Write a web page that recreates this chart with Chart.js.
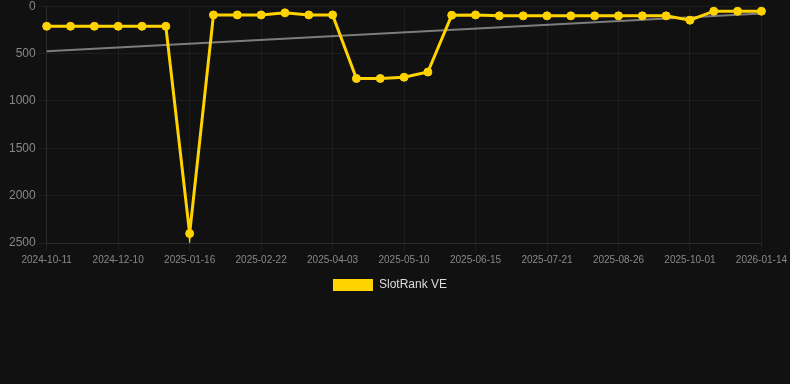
<!DOCTYPE html>
<html>
<head>
<meta charset="utf-8">
<script src="https://cdn.jsdelivr.net/npm/chart.js@4"></script>
<style>
  html, body { margin: 0; padding: 0; background: #111111; overflow: hidden; }
  #wrap { width: 790px; height: 305px; margin-top: -4px; }
  canvas { display: block; }
</style>
</head>
<body>
<div id="wrap"><canvas id="c" width="790" height="305"></canvas></div>
<script>
const labels = [
  '2024-10-11','2024-10-31','2024-11-20','2024-12-10','2024-12-22','2025-01-04',
  '2025-01-16','2025-01-28','2025-02-10','2025-02-22','2025-03-07','2025-03-20',
  '2025-04-03','2025-04-15','2025-04-28','2025-05-10','2025-05-22','2025-06-03',
  '2025-06-15','2025-06-27','2025-07-09','2025-07-21','2025-08-02','2025-08-14',
  '2025-08-26','2025-09-07','2025-09-19','2025-10-01','2025-10-30','2025-12-15',
  '2026-01-14'
];
const rankValues = [
  212, 212, 212, 212, 212, 212,
  2400, 92, 92, 92, 70, 92,
  92, 763, 763, 750, 695, 95,
  92, 102, 102, 102, 102, 102,
  102, 102, 102, 148, 53, 53,
  53
];
const trendValues = [475].concat(new Array(29).fill(null)).concat([78]);
const yTicks = [0, 500, 1000, 1500, 2000, 2500];

Chart.defaults.font.family = 'Arial, "Liberation Sans", Helvetica, sans-serif';

const legendShift = {
  id: 'legendShift',
  afterLayout(chart) {
    if (chart.legend) {
      chart.legend.left -= 6;
      chart.legend.right -= 6;
    }
  }
};

new Chart(document.getElementById('c'), {
  type: 'line',
  data: {
    labels: labels,
    datasets: [
      {
        label: 'SlotRank VE',
        data: rankValues,
        borderColor: '#FFD300',
        backgroundColor: '#FFD300',
        borderWidth: 3,
        pointRadius: 4,
        pointHoverRadius: 4,
        pointBorderWidth: 1,
        pointBackgroundColor: '#FFD300',
        pointBorderColor: '#FFD300',
        tension: 0,
        fill: false
      },
      {
        label: 'Trend',
        data: trendValues,
        borderColor: 'rgba(160,160,160,0.75)',
        borderWidth: 2,
        pointRadius: 0,
        spanGaps: true,
        fill: false
      }
    ]
  },
  plugins: [legendShift],
  options: {
    responsive: false,
    animation: false,
    layout: { padding: { left: 6, right: 4, top: 0, bottom: 0 } },
    plugins: {
      tooltip: { enabled: false },
      legend: {
        position: 'bottom',
        labels: {
          color: '#dddddd',
          boxWidth: 40,
          boxHeight: 12,
          font: { size: 12 },
          filter: (item) => item.text !== 'Trend',
          generateLabels: (chart) => {
            const items = Chart.defaults.plugins.legend.labels.generateLabels(chart);
            items.forEach(it => { it.lineWidth = 0; });
            return items;
          }
        }
      }
    },
    scales: {
      x: {
        grid: { color: 'rgba(255,255,255,0.05)' },
        border: { color: 'rgba(255,255,255,0.08)' },
        ticks: {
          color: '#888888',
          font: { size: 10 },
          autoSkip: false,
          maxRotation: 0,
          callback: function(v, i) { return i % 3 === 0 ? labels[i] : null; }
        }
      },
      y: {
        reverse: true,
        min: 0,
        max: 2500,
        afterBuildTicks: (axis) => { axis.ticks = yTicks.map(v => ({ value: v })); },
        grid: { color: 'rgba(255,255,255,0.05)' },
        border: { color: 'rgba(255,255,255,0.08)' },
        ticks: { color: '#888888', font: { size: 12 }, callback: (v) => String(v) }
      }
    }
  }
});
</script>
</body>
</html>
